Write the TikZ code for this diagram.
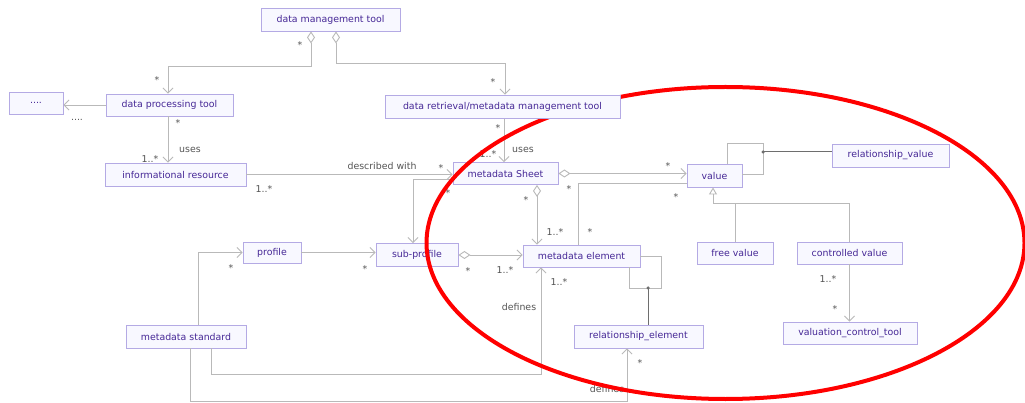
\documentclass[tikz,border=0pt]{standalone}
\usepackage{fontspec}
\setmainfont{DejaVu Sans}
\usetikzlibrary{arrows.meta}
\pgfdeclarelayer{highlight}
\pgfdeclarelayer{topmost}
\pgfsetlayers{main,highlight,topmost}
\definecolor{boxdraw}{RGB}{180,170,228}
\definecolor{boxfill}{RGB}{248,248,255}
\definecolor{boxtext}{RGB}{70,40,150}
\definecolor{linegray}{RGB}{185,185,185}
\definecolor{darkline}{RGB}{110,110,110}
\definecolor{labelgray}{RGB}{85,85,85}
\tikzset{
  cls/.style={draw=boxdraw, fill=boxfill, text=boxtext, line width=0.9pt, inner sep=0pt,
    font=\fontsize{9.4}{11}\selectfont},
  conn/.style={draw=linegray, line width=0.9pt},
  nav/.style={conn, -{Straight Barb[length=5pt,width=10pt]}},
  agg/.style={conn, {Diamond[open,length=12pt,width=8pt]}-{Straight Barb[length=5pt,width=10pt]}},
  gen/.style={conn, -{Triangle[open,length=7pt,width=8pt]}},
  dark/.style={draw=darkline, line width=1pt},
  lbl/.style={text=labelgray, inner sep=0pt, font=\fontsize{9.4}{11}\selectfont},
  star/.style={lbl, yshift=-2pt},
  dotmark/.style={circle, fill=darkline, inner sep=0pt, minimum size=3.5pt}
}
\begin{document}
\begin{tikzpicture}[x=1pt,y=-1pt]
\fill[white] (0,0) rectangle (1025,403);
\useasboundingbox (0,0) rectangle (1025,403);
% classes
\node[cls, minimum width=139pt, minimum height=23pt] (dmt) at (330.5,19.5) {data management tool};
\node[cls, minimum width=127pt, minimum height=22pt] (dpt) at (169.5,105) {data processing tool};
\node[cls, minimum width=54pt, minimum height=22pt] (dots) at (36,103) {....};
\node[cls, minimum width=141pt, minimum height=23pt] (ir) at (175.5,174.5) {informational resource};
\begin{pgfonlayer}{topmost}
\node[cls, minimum width=235pt, minimum height=23pt] (drt) at (502.5,106.5) {data retrieval/metadata management tool};
\end{pgfonlayer}
\node[cls, minimum width=105pt, minimum height=22pt] (mS) at (505.5,173.5) {metadata Sheet};
\node[cls, minimum width=55pt, minimum height=23pt] (val) at (714.5,175.5) {value};
\node[cls, minimum width=117pt, minimum height=23pt] (rv) at (890.5,155.5) {relationship\_value};
\node[cls, minimum width=76pt, minimum height=22pt] (fv) at (735,253) {free value};
\node[cls, minimum width=105pt, minimum height=22pt] (cv) at (849.5,253) {controlled value};
\node[cls, minimum width=134pt, minimum height=22pt] (vct) at (850,333) {valuation\_control\_tool};
\node[cls, minimum width=129pt, minimum height=23pt] (re) at (638.5,336.5) {relationship\_element};
\node[cls, minimum width=117pt, minimum height=22pt] (me) at (581.5,256) {metadata element};
\node[cls, minimum width=82pt, minimum height=23pt] (sp) at (417,255) {sub-profile};
\node[cls, minimum width=58pt, minimum height=21pt] (prof) at (272,252.5) {profile};
\node[cls, minimum width=120pt, minimum height=23pt] (ms) at (186,336.5) {metadata standard};
% connectors
\draw[agg] (311,0 |- dmt.south) -- (311,66) -| (168,0 |- dpt.north);
\draw[agg] (336,0 |- dmt.south) -- (336,63) -| (505,0 |- drt.north);
\draw[nav] (dpt.west) -- (dpt.west -| dots.east);
\draw[nav] (168,0 |- dpt.south) -- (168,0 |- ir.north);
\draw[nav] (ir.east) -- (ir.east -| mS.west);
\draw[nav] (504,0 |- drt.south) -- (504,0 |- mS.north);
\draw[nav] (mS.west |- 0,179) -| (413,0 |- sp.north);
\draw[nav] (prof.east) -- (prof.east -| sp.west);
\draw[nav] (198,0 |- ms.north) |- (prof.west);
\draw[agg] (sp.east) -- (sp.east -| me.west);
\draw[agg] (537,0 |- mS.south) -- (537,0 |- me.north);
\draw[agg] (mS.east) -- (mS.east -| val.west);
\draw[conn] (578,0 |- me.north) |- (val.west |- 0,183);
% value self association
\draw[conn] (727,0 |- val.north) -- (727,143) -| (763,174) -- (val.east |- 0,174);
\node[dotmark] (rvdot) at (763,152) {};
\draw[dark] (rvdot.center) -- (rvdot.center -| rv.west);
% generalisation
\coordinate (gjoin) at (713,203);
\draw[gen] (fv.north) |- (gjoin) -- (713,0 |- val.south);
\draw[conn] (849,0 |- cv.north) |- (gjoin);
\draw[nav] (cv.south) -- (cv.south |- vct.north);
% metadata element self association
\draw[conn] (me.east) -| (661,288) -| (629,0 |- me.south);
\node[dotmark] (redot) at (648,288) {};
\draw[dark] (redot.center) -- (redot.center |- re.north);
% defines
\draw[nav] (211,0 |- ms.south) |- (541,374) -- (541,0 |- me.south);
\draw[nav] (190,0 |- ms.south) |- (627,401.5) -- (627,0 |- re.south);
% labels
\node[star] (l1) at (300,43) {*};
\node[star] (l2) at (157,78) {*};
\node[star] (l3) at (493,80) {*};
\node[lbl] (l4) at (77,120) {....};
\node[star] (l5) at (178,121) {*};
\node[lbl] (l6) at (190,150) {uses};
\node[lbl] (l7) at (150,159) {1..*};
\node[lbl] (l8) at (382,166) {described with};
\node[star] (l9) at (441,166) {*};
\node[lbl] (l10) at (264,189) {1..*};
\node[star] (l11) at (498,126) {*};
\node[lbl] (l12) at (523,150) {uses};
\node[lbl] (l13) at (488,154) {1..*};
\node[star] (l14) at (448,191) {*};
\node[star] (l15) at (365,267) {*};
\node[star] (l16) at (231,266) {*};
\node[star] (l17) at (468,269) {*};
\node[lbl] (l18) at (505,270) {1..*};
\node[star] (l19) at (526,198) {*};
\node[lbl] (l20) at (555,232) {1..*};
\node[star] (l21) at (668,164) {*};
\node[star] (l22) at (569,187) {*};
\node[star] (l23) at (676,195) {*};
\node[star] (l24) at (590,230) {*};
\node[lbl] (l25) at (828,279) {1..*};
\node[star] (l26) at (835,307) {*};
\node[lbl] (l27) at (519,307) {defines};
\node[lbl] (l28) at (559,282) {1..*};
\node[lbl] (l29) at (607,389) {defines};
\node[star] (l30) at (640,361) {*};
% red highlight
\begin{pgfonlayer}{highlight}
\draw[red, line width=4pt] (725.5,243) ellipse [x radius=299pt, y radius=156pt];
\end{pgfonlayer}
\end{tikzpicture}
\end{document}
